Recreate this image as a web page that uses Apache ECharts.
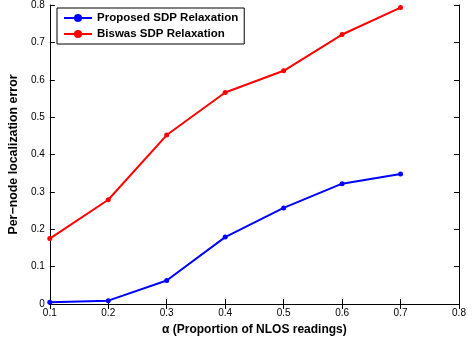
<!DOCTYPE html>
<html>
<head>
<meta charset="utf-8">
<script src="https://cdn.jsdelivr.net/npm/echarts@6/dist/echarts.min.js"></script>
<style>
  html, body { margin: 0; padding: 0; background: #fff; }
  #chart { width: 473px; height: 341px; }
</style>
</head>
<body>
<div id="chart"></div>
<script>
// x 取值 (alpha)
var alphaVals = [0.1, 0.2, 0.3, 0.4, 0.5, 0.6, 0.7];
var proposedErr = [0.005, 0.009, 0.063, 0.179, 0.257, 0.322, 0.348];
var biswasErr = [0.175, 0.279, 0.452, 0.566, 0.624, 0.721, 0.793];
var seriesNames = ["Proposed SDP Relaxation", "Biswas SDP Relaxation"];

function pairs(xs, ys) {
  var out = [];
  for (var i = 0; i < xs.length; i++) {
    out.push([xs[i], ys[i]]);
  }
  return out;
}

var font = "Liberation Sans, Arial, sans-serif";
var myChart = echarts.init(document.getElementById("chart"));

var option = {
  animation: false,
  color: ["#0000ff", "#ff0000"],
  grid: {
    left: 47,
    right: 14,
    top: 4,
    bottom: 36,
  },
  legend: {
    left: 57,
    top: 8,
    orient: "vertical",
    data: seriesNames,
    borderColor: "#000",
    borderWidth: 1,
    backgroundColor: "#fff",
    padding: [4, 6, 4, 6],
    itemGap: 4,
    itemWidth: 28,
    itemHeight: 10,
    textStyle: {
      color: "#000",
      fontWeight: "bold",
      fontSize: 11.5,
      fontFamily: font,
    },
  },
  xAxis: [
    {
      type: "value",
      min: 0.1,
      max: 0.8,
      interval: 0.1,
      name: "\u03b1 (Proportion of NLOS readings)",
      nameLocation: "middle",
      nameGap: 20,
      nameTextStyle: {
        color: "#000",
        fontWeight: "bold",
        fontSize: 12,
        fontFamily: font,
      },
      axisLine: { lineStyle: { color: "#000", width: 1 } },
      axisTick: { inside: true, length: 5, lineStyle: { color: "#000" } },
      axisLabel: {
        color: "#000",
        fontSize: 10,
        fontFamily: font,
        margin: 4,
        formatter: function (v) {
          return v.toFixed(1);
        },
      },
      splitLine: { show: false },
    },
    {
      type: "value",
      position: "top",
      min: 0.1,
      max: 0.8,
      interval: 0.1,
      axisLine: { lineStyle: { color: "#000", width: 1 } },
      axisTick: { inside: true, length: 5, lineStyle: { color: "#000" } },
      axisLabel: { show: false },
      splitLine: { show: false },
    },
  ],
  yAxis: [
    {
      type: "value",
      min: 0,
      max: 0.8,
      interval: 0.1,
      name: "Per\u2212node localization error",
      nameLocation: "middle",
      nameGap: 21,
      nameTextStyle: {
        color: "#000",
        fontWeight: "bold",
        fontSize: 12.4,
        fontFamily: font,
      },
      axisLine: { lineStyle: { color: "#000", width: 1 } },
      axisTick: { inside: true, length: 5, lineStyle: { color: "#000" } },
      axisLabel: {
        color: "#000",
        fontSize: 10,
        fontFamily: font,
        margin: 5,
        formatter: function (v) {
          return v === 0 ? "0" : v.toFixed(1);
        },
      },
      splitLine: { show: false },
    },
    {
      type: "value",
      position: "right",
      min: 0,
      max: 0.8,
      interval: 0.1,
      axisLine: { show: true, lineStyle: { color: "#000", width: 1 } },
      axisTick: { show: true, inside: true, length: 5, lineStyle: { color: "#000" } },
      axisLabel: { show: false },
      splitLine: { show: false },
    },
  ],
  series: [
    {
      name: seriesNames[0],
      type: "line",
      data: pairs(alphaVals, proposedErr),
      symbol: "circle",
      symbolSize: 5,
      lineStyle: { width: 2 },
    },
    {
      name: seriesNames[1],
      type: "line",
      data: pairs(alphaVals, biswasErr),
      symbol: "circle",
      symbolSize: 5,
      lineStyle: { width: 2 },
    },
  ],
};
myChart.setOption(option);
</script>
</body>
</html>
